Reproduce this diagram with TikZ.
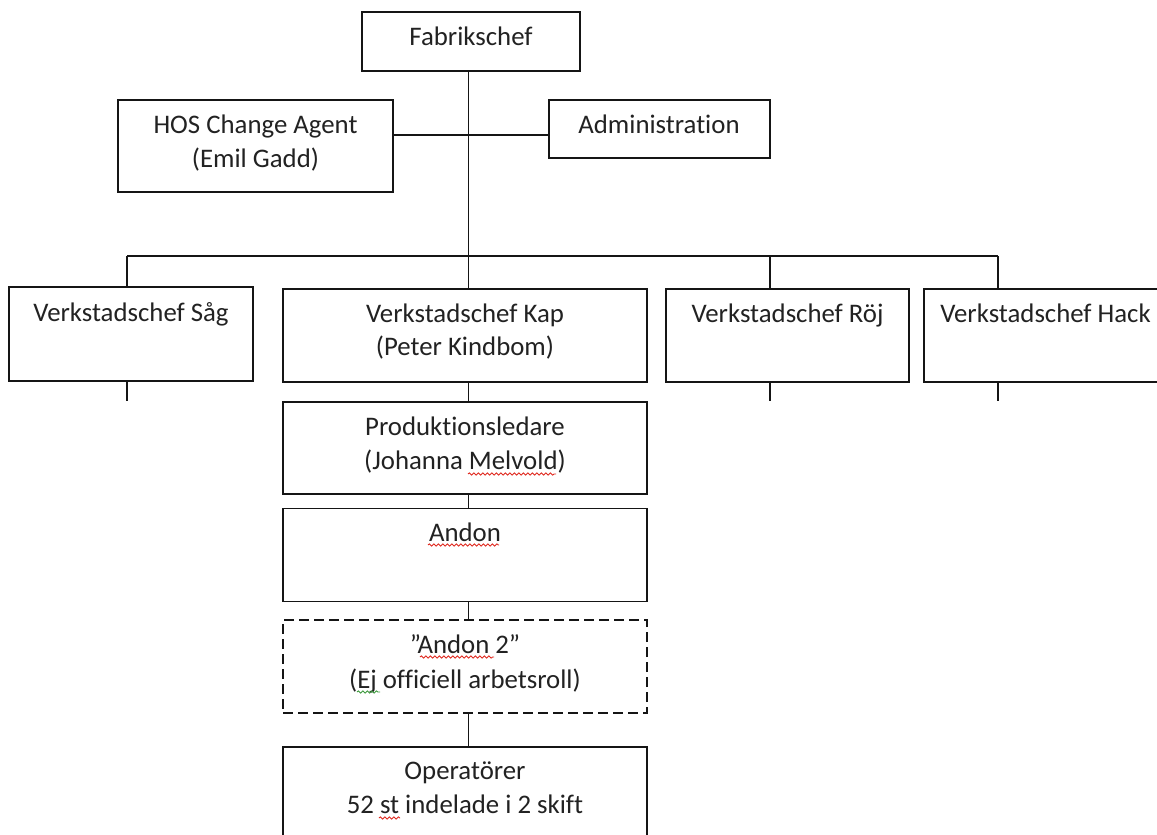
\documentclass[tikz,border=0pt]{standalone}
\usepackage{fontspec}
\setmainfont{Carlito}[Ligatures={TeX,NoCommon}]
\usetikzlibrary{decorations.pathmorphing}
\definecolor{ink}{HTML}{151515}
\definecolor{txtc}{HTML}{222222}
\definecolor{spellred}{HTML}{E0281E}
\definecolor{spellgreen}{HTML}{3C9A3C}
\begin{document}
\begin{tikzpicture}[x=1pt,y=-1pt,
  box/.style={draw=ink, line width=1.9pt, rectangle, inner sep=0pt, outer sep=0pt},
  dbox/.style={box, dash pattern=on 10pt off 5pt},
  conn/.style={draw=ink, line width=1.9pt},
  lbl/.style={font=\fontsize{26.8}{33}\selectfont, text=txtc, inner sep=0pt, anchor=base},
  wave/.style={line width=0.9pt, decorate, decoration={snake, amplitude=1.1pt, segment length=4.5pt}}]
\useasboundingbox (0,0) rectangle (1157,835);
\fill[white] (0,0) rectangle (1157,835);
\clip (0,0) rectangle (1157,835);

% boxes
\node[box, minimum width=218pt, minimum height=59pt] (fab) at (471,41.5) {};
\node[box, minimum width=275pt, minimum height=92pt] (hos) at (255.5,146) {};
\node[box, minimum width=221pt, minimum height=58pt] (adm) at (659.5,129) {};
\node[box, minimum width=244pt, minimum height=94pt] (sag) at (131,334) {};
\node[box, minimum width=364pt, minimum height=93pt] (kap) at (465,335.5) {};
\node[box, minimum width=243pt, minimum height=93pt] (roj) at (787.5,335.5) {};
\node[box, minimum width=243pt, minimum height=93pt] (hack) at (1045.5,335.5) {};
\node[box, minimum width=364pt, minimum height=92pt] (prod) at (465,448) {};
\node[box, minimum width=364pt, minimum height=93pt] (andon) at (465,555) {};
\node[dbox, minimum width=364pt, minimum height=93pt] (andontwo) at (465,666.5) {};
\node[box, minimum width=364pt, minimum height=94pt] (oper) at (465,794) {};

% connector coordinates
\coordinate (spine) at (468.5,256);
\coordinate (side) at (468.5,135);
\coordinate (busL) at (127,256);
\coordinate (busRj) at (770,256);
\coordinate (busR) at (998,256);
\coordinate (sagEnd) at (127,401);
\coordinate (rojEnd) at (770,401);
\coordinate (hackEnd) at (998,401);

% connectors
\draw[conn] (fab.south -| spine) -- (spine);
\draw[conn] (hos.east |- side) -- (adm.west |- side);
\draw[conn] (busL) -- (busR);
\draw[conn] (busL) -- (sag.north -| busL);
\draw[conn] (spine) -- (kap.north -| spine);
\draw[conn] (busRj) -- (roj.north -| busRj);
\draw[conn] (busR) -- (hack.north -| busR);
\draw[conn] (sag.south -| sagEnd) -- (sagEnd);
\draw[conn] (roj.south -| rojEnd) -- (rojEnd);
\draw[conn] (hack.south -| hackEnd) -- (hackEnd);
\draw[conn] (kap.south -| spine) -- (prod.north -| spine);
\draw[conn] (prod.south -| spine) -- (andon.north -| spine);
\draw[conn] (andon.south -| spine) -- (andontwo.north -| spine);
\draw[conn] (andontwo.south -| spine) -- (oper.north -| spine);

% texts
\node[lbl] (fabT) at (471,45) {Fabrikschef};
\node[lbl] (hosT1) at (255.5,133) {HOS Change Agent};
\node[lbl] (hosT2) at (255.5,167) {(Emil Gadd)};
\node[lbl] (admT) at (659,133) {Administration};
\node[lbl] (sagT) at (131,321) {Verkstadschef Såg};
\node[lbl] (kapT1) at (465,322) {Verkstadschef Kap};
\node[lbl] (kapT2) at (465,355) {(Peter Kindbom)};
\node[lbl] (rojT) at (787.5,322) {Verkstadschef Röj};
\node[lbl] (hackT) at (1045.5,322) {Verkstadschef Hack};
\node[lbl] (prodT1) at (465,435) {Produktionsledare};
\node[lbl] (prodT2) at (465,469) {(Johanna Melvold)};
\node[lbl] (andonT) at (465,541) {Andon};
\node[lbl] (andontwoT1) at (465,653) {”Andon 2”};
\node[lbl] (andontwoT2) at (465,688) {(Ej officiell arbetsroll)};
\node[lbl] (operT1) at (465,779) {Operatörer};
\node[lbl] (operT2) at (465,813) {52 st indelade i 2 skift};

% spell-check underlines
\draw[wave, spellred] (468,474) -- (556,474);
\draw[wave, spellred] (428,545) -- (499,545);
\draw[wave, spellred] (420,657) -- (494,657);
\draw[wave, spellgreen] (357,692) -- (380,692);
\draw[wave, spellred] (379,818) -- (400,818);
\end{tikzpicture}
\end{document}
